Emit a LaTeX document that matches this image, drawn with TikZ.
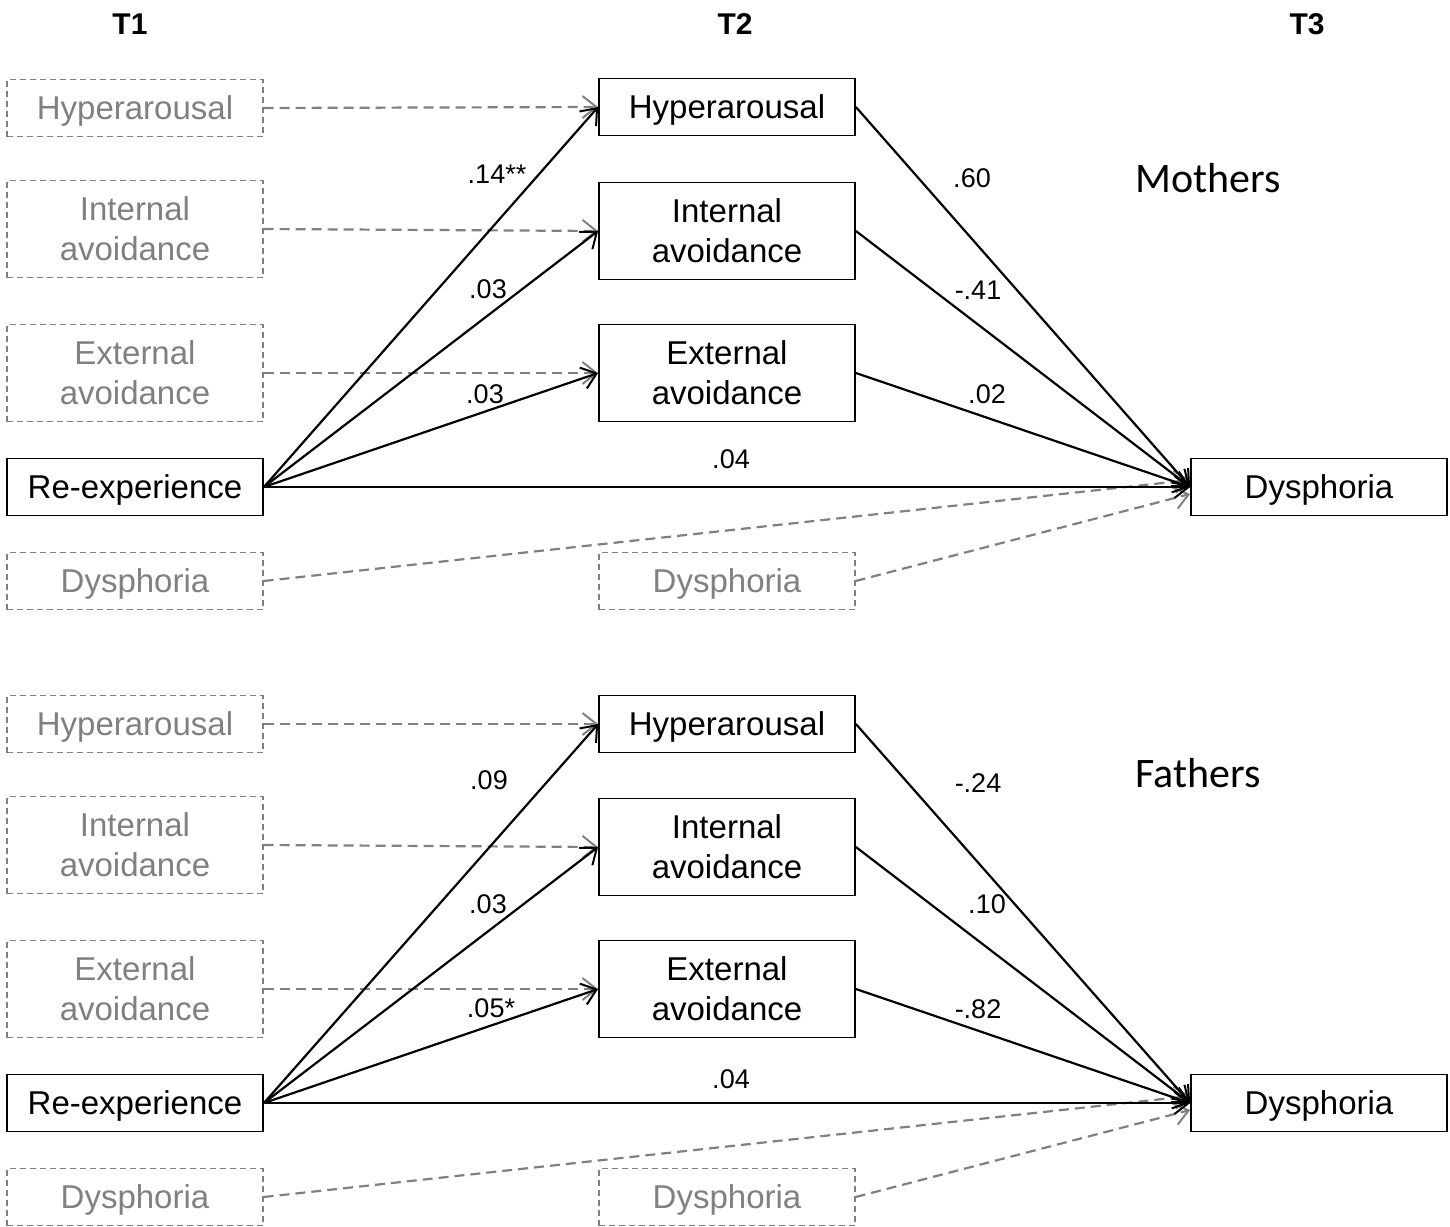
\documentclass[tikz,border=0pt]{standalone}
\usepackage{fontspec}
\setmainfont{Liberation Sans}
\newfontfamily\calib{Carlito}
\usetikzlibrary{arrows.meta}
\definecolor{dgray}{HTML}{808080}
\begin{document}
\begin{tikzpicture}[x=0.5pt,y=-0.5pt,
  box/.style={draw=black, line width=0.9pt, minimum width=128pt, inner sep=0pt, align=center, font=\fontsize{16.5}{20}\selectfont},
  one/.style={minimum height=28.5pt, text height=11.8pt, text depth=0pt},
  two/.style={minimum height=48.5pt},
  ghost/.style={box, draw=dgray, text=dgray, dash pattern=on 3pt off 2pt, line width=0.6pt},
  solidarrow/.style={line width=1.1pt, -{Straight Barb[length=7pt,width=11pt,line width=1pt]}},
  dasharrow/.style={draw=dgray, line width=1.1pt, dash pattern=on 5pt off 3pt, -{Straight Barb[length=7pt,width=11pt,line width=1pt]}},
  coef/.style={font=\fontsize{13.5}{16}\selectfont, inner sep=0pt},
  group/.style={font=\calib\fontsize{21}{25}\selectfont, inner sep=0pt},
  head/.style={font=\bfseries\fontsize{15}{18}\selectfont, inner sep=0pt},
  ]
\useasboundingbox (0,0) rectangle (1450,1226);

\node[head] (t1) at (130,24) {T1};
\node[head] (t2) at (735,24) {T2};
\node[head] (t3) at (1307,24) {T3};

% ---------------- Mothers ----------------
\node[ghost,one] (mAh) at (135,108) {Hyperarousal};
\node[ghost,two] (mAi) at (135,229) {Internal\\avoidance};
\node[ghost,two] (mAe) at (135,373) {External\\avoidance};
\node[box,one]   (mAr) at (135,487) {Re-experience};
\node[ghost,one] (mAd) at (135,581) {Dysphoria};
\node[box,one]   (mBh) at (727,107) {Hyperarousal};
\node[box,two]   (mBi) at (727,231) {Internal\\avoidance};
\node[box,two]   (mBe) at (727,373) {External\\avoidance};
\node[ghost,one] (mBd) at (727,581) {Dysphoria};
\node[box,one]   (mCd) at (1319,487) {Dysphoria};

\draw[dasharrow] (mAh.east) -- (mBh.west);
\draw[dasharrow] (mAi.east) -- (mBi.west);
\draw[dasharrow] (mAe.east) -- (mBe.west);
\draw[dasharrow] (mAd.east) -- ([yshift=3.5pt]mCd.west);
\draw[dasharrow] (mBd.east) -- ([yshift=-3.5pt]mCd.west);
\draw[solidarrow] (mAr.east) -- (mBh.west);
\draw[solidarrow] (mAr.east) -- (mBi.west);
\draw[solidarrow] (mAr.east) -- (mBe.west);
\draw[solidarrow] (mAr.east) -- (mCd.west);
\draw[solidarrow] (mBh.east) -- (mCd.west);
\draw[solidarrow] (mBi.east) -- (mCd.west);
\draw[solidarrow] (mBe.east) -- (mCd.west);

\node[coef] (m1) at (497,174) {.14**};
\node[coef] (m2) at (488,289) {.03};
\node[coef] (m3) at (485,394) {.03};
\node[coef] (m4) at (731,459) {.04};
\node[coef] (m5) at (972,178) {.60};
\node[coef] (m6) at (978,290) {-.41};
\node[coef] (m7) at (987,394) {.02};
\node[group] (mg) at (1208,178) {Mothers};

% ---------------- Fathers ----------------
\node[ghost,one] (fAh) at (135,724) {Hyperarousal};
\node[ghost,two] (fAi) at (135,845) {Internal\\avoidance};
\node[ghost,two] (fAe) at (135,989) {External\\avoidance};
\node[box,one]   (fAr) at (135,1103) {Re-experience};
\node[ghost,one] (fAd) at (135,1197) {Dysphoria};
\node[box,one]   (fBh) at (727,724) {Hyperarousal};
\node[box,two]   (fBi) at (727,847) {Internal\\avoidance};
\node[box,two]   (fBe) at (727,989) {External\\avoidance};
\node[ghost,one] (fBd) at (727,1197) {Dysphoria};
\node[box,one]   (fCd) at (1319,1103) {Dysphoria};

\draw[dasharrow] (fAh.east) -- (fBh.west);
\draw[dasharrow] (fAi.east) -- (fBi.west);
\draw[dasharrow] (fAe.east) -- (fBe.west);
\draw[dasharrow] (fAd.east) -- ([yshift=3.5pt]fCd.west);
\draw[dasharrow] (fBd.east) -- ([yshift=-3.5pt]fCd.west);
\draw[solidarrow] (fAr.east) -- (fBh.west);
\draw[solidarrow] (fAr.east) -- (fBi.west);
\draw[solidarrow] (fAr.east) -- (fBe.west);
\draw[solidarrow] (fAr.east) -- (fCd.west);
\draw[solidarrow] (fBh.east) -- (fCd.west);
\draw[solidarrow] (fBi.east) -- (fCd.west);
\draw[solidarrow] (fBe.east) -- (fCd.west);

\node[coef] (f1) at (489,780) {.09};
\node[coef] (f2) at (488,904) {.03};
\node[coef] (f3) at (491,1008) {.05*};
\node[coef] (f4) at (731,1079) {.04};
\node[coef] (f5) at (978,783) {-.24};
\node[coef] (f6) at (987,904) {.10};
\node[coef] (f7) at (978,1009) {-.82};
\node[group] (fg) at (1198,773) {Fathers};
\end{tikzpicture}
\end{document}
